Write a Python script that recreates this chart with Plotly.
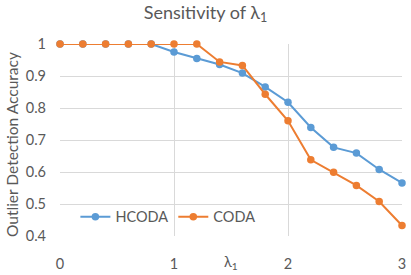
import plotly.graph_objects as go

lam = [0, 0.2, 0.4, 0.6, 0.8, 1.0, 1.2, 1.4, 1.6, 1.8, 2.0, 2.2, 2.4, 2.6, 2.8, 3.0]
hcoda = [1.0, 1.0, 1.0, 1.0, 1.0, 0.975, 0.955, 0.936, 0.909, 0.866, 0.818, 0.739, 0.677, 0.659, 0.608, 0.566]
coda = [1.0, 1.0, 1.0, 1.0, 1.0, 1.0, 1.0, 0.944, 0.933, 0.843, 0.760, 0.638, 0.599, 0.558, 0.508, 0.433]
x_ticks = [0, 1, 2, 3]
y_ticks = [0.4, 0.5, 0.6, 0.7, 0.8, 0.9, 1.0]
y_labels = ["0.4", "0.5", "0.6", "0.7", "0.8", "0.9", "1"]

FONT = "Lato, 'Open Sans', sans-serif"
GRAY = "#595959"

fig = go.Figure()
fig.add_trace(go.Scatter(x=lam, y=hcoda, name="HCODA", mode="lines+markers",
                         line=dict(color="#5B9BD5", width=2),
                         marker=dict(size=7.5, color="#5B9BD5"), cliponaxis=False))
fig.add_trace(go.Scatter(x=lam, y=coda, name="CODA", mode="lines+markers",
                         line=dict(color="#ED7D31", width=2),
                         marker=dict(size=7.5, color="#ED7D31"), cliponaxis=False))

fig.update_layout(
    width=411, height=275,
    margin=dict(l=60, r=9, t=44, b=39),
    paper_bgcolor="white", plot_bgcolor="white",
    font=dict(family=FONT, color=GRAY, size=14),
    title=dict(text="Sensitivity of λ<sub>1</sub>", x=0.5, xanchor="center",
               y=0.955, yanchor="middle", font=dict(size=18, color=GRAY, family=FONT),
               automargin=False),
    showlegend=True,
    legend=dict(orientation="h", x=0.045, y=0.1, xanchor="left", yanchor="middle",
                bgcolor="rgba(0,0,0,0)", font=dict(size=14.5, color=GRAY),
                itemwidth=30, tracegroupgap=0),
    xaxis=dict(range=[0, 3], tickvals=x_ticks, ticktext=[str(v) for v in x_ticks],
               showgrid=True, gridcolor="#D9D9D9", gridwidth=1, zeroline=False,
               showline=False, ticks="", ticklabelstandoff=17, automargin=False,
               tickfont=dict(size=14.5, color=GRAY)),
    yaxis=dict(range=[0.4, 1.0], tickvals=y_ticks, ticktext=y_labels,
               showgrid=True, gridcolor="#D9D9D9", gridwidth=1, zeroline=False,
               showline=False, ticks="", ticklabelstandoff=13, automargin=False,
               tickfont=dict(size=14.5, color=GRAY)),
    annotations=[
        dict(text="λ<sub>1</sub>", x=1.5, xref="x", y=-0.14, yref="paper",
             yanchor="middle", showarrow=False, font=dict(size=14.5, color=GRAY)),
        dict(text="Outlier Detection Accuracy", x=0, xref="paper", xshift=-48,
             xanchor="center", y=0.5, yref="paper", yshift=-5, textangle=-90,
             showarrow=False, font=dict(size=15.5, color=GRAY)),
    ],
)

fig.write_html("out.html")
